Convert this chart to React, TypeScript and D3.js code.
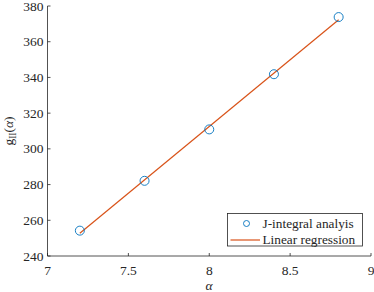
import React from "react";
import * as d3 from "d3";

const alphaValues = [7.2, 7.6, 8.0, 8.4, 8.8];
const gValues = [254.2, 282.1, 310.9, 341.8, 373.8];
const xTicks = [7, 7.5, 8, 8.5, 9];
const yTicks = [240, 260, 280, 300, 320, 340, 360, 380];
const legendLabels = ["J-integral analyis", "Linear regression"];

const W = 374;
const H = 292;
const FONT = "Liberation Serif";
const AXIS = "#262626";
const BLUE = "#0072BD";
const ORANGE = "#D95319";

export default function App() {
  const x = d3.scaleLinear().domain([7, 9]).range([47.5, 371]);
  const y = d3.scaleLinear().domain([240, 380]).range([256, 6]);

  const mx = d3.mean(alphaValues)!;
  const my = d3.mean(gValues)!;
  const slope =
    d3.sum(alphaValues.map((a, i) => (a - mx) * (gValues[i] - my))) /
    d3.sum(alphaValues.map((a) => (a - mx) ** 2));
  const fit = (a: number) => my + slope * (a - mx);
  const x0 = alphaValues[0];
  const x1 = alphaValues[alphaValues.length - 1];
  const line = d3
    .line<number>()
    .x((a) => x(a))
    .y((a) => y(fit(a)));

  const ts: React.CSSProperties = { fontFamily: FONT };

  return (
    <svg width={W} height={H} style={{ position: "absolute", left: 0, top: 0, background: "#fff" }}>
      <rect x={0} y={0} width={W} height={H} fill="#fff" />
      <line x1={x(7)} x2={x(9)} y1={y(240)} y2={y(240)} stroke={AXIS} strokeWidth={0.8} />
      <line x1={x(7)} x2={x(7)} y1={y(240)} y2={y(380)} stroke={AXIS} strokeWidth={0.8} />
      {xTicks.map((t) => (
        <g key={"x" + t}>
          <line x1={x(t)} x2={x(t)} y1={y(240)} y2={y(240) - 3} stroke={AXIS} strokeWidth={0.8} />
          <text x={x(t)} y={275} textAnchor="middle" fontSize={13.5} fill={AXIS} style={ts}>
            {String(t)}
          </text>
        </g>
      ))}
      {yTicks.map((t) => (
        <g key={"y" + t}>
          <line x1={x(7)} x2={x(7) + 3} y1={y(t)} y2={y(t)} stroke={AXIS} strokeWidth={0.8} />
          <text x={43.5} y={y(t) + 4.5} textAnchor="end" fontSize={13.5} fill={AXIS} style={ts}>
            {t}
          </text>
        </g>
      ))}
      <text x={209} y={290} textAnchor="middle" fontSize={13.5} fontStyle="italic" fill={AXIS} style={ts}>
        α
      </text>
      <text transform="translate(13,131) rotate(-90)" textAnchor="middle" fontSize={13.5} fill={AXIS} style={ts}>
        g<tspan fontSize={9.5} dy={3}>II</tspan>
        <tspan dy={-3}>(</tspan>
        <tspan fontStyle="italic">α</tspan>)
      </text>
      <path d={line([x0, x1]) || ""} fill="none" stroke={ORANGE} strokeWidth={1.2} />
      {alphaValues.map((a, i) => (
        <circle key={i} cx={x(a)} cy={y(gValues[i])} r={4.5} fill="none" stroke={BLUE} strokeWidth={0.9} />
      ))}
      <rect x={227.5} y={213.5} width={135} height={32.5} fill="#fff" stroke={AXIS} strokeWidth={0.8} />
      <circle cx={246.5} cy={223.5} r={3} fill="none" stroke={BLUE} strokeWidth={0.9} />
      <text x={262.5} y={228} fontSize={13.3} fill={AXIS} style={ts}>
        {legendLabels[0]}
      </text>
      <line x1={230.5} x2={260} y1={240} y2={240} stroke={ORANGE} strokeWidth={1.2} />
      <text x={262.5} y={244} fontSize={13.3} fill={AXIS} style={ts}>
        {legendLabels[1]}
      </text>
    </svg>
  );
}
